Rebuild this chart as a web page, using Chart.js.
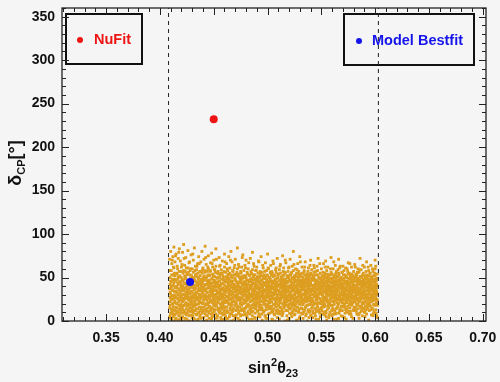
<!DOCTYPE html>
<html>
<head>
<meta charset="utf-8">
<script src="https://cdn.jsdelivr.net/npm/chart.js@4/dist/chart.umd.min.js"></script>
<style>
  html,body{margin:0;padding:0;background:#f5f5f5;}
  canvas{display:block;}
</style>
</head>
<body>
<canvas id="chart" width="500" height="382"></canvas>
<script>
// ── sin^2 theta23 vs delta_CP scan ─────────────────────

// akse-ticks
const s23Ticks = [0.35,0.40,0.45,0.50,0.55,0.60,0.65,0.70];
const dcpTicks = [0,50,100,150,200,250,300,350];

// enkeltpunkter [sin2 t23, dCP]
const nuFitPoint   = [0.45, 232];
const bestFitPoint = [0.428, 45];

// stiplede grenser (3 sigma) for sin2 t23
const boundS23 = [0.408, 0.603];

// scan-punkter, lest av bildet: [sin2 t23, [dCP-verdier]]
const scanCols = [
[0.409,[4,22,37,58,71,15]],[0.410,[31,9,46,80,27]],[0.411,[12,53,40,2,66,29]],[0.412,[19,35,74,8,48]],
[0.413,[44,26,61,13,0,85]],[0.414,[7,39,52,23,68]],[0.415,[28,16,47,3,77,34]],[0.416,[55,20,38,11,63]],
[0.417,[1,42,30,72,25,50]],[0.418,[36,14,57,83,6]],[0.419,[24,45,9,33,69,17]],[0.420,[50,3,27,41,62]],
[0.421,[13,38,22,79,46,5]],[0.422,[30,58,18,0,35,88]],[0.423,[43,10,26,64,52]],[0.424,[8,33,49,21,73,38]],
[0.425,[17,40,2,55,29]],[0.426,[26,61,35,12,44,81]],[0.427,[47,6,19,37,67]],[0.428,[11,31,53,24,0,58]],
[0.429,[39,15,45,76,28]],[0.430,[21,4,34,60,49,13]],[0.431,[56,27,41,9,70]],[0.432,[2,36,18,48,84,31]],
[0.433,[29,52,12,38,63]],[0.434,[45,7,24,59,33,19]],[0.435,[14,40,66,27,1]],[0.436,[35,20,50,74,42,10]],
[0.437,[23,57,5,31,46]],[0.438,[48,16,37,68,26,3]],[0.439,[9,43,29,55,80]],[0.440,[32,12,47,21,61,39]],
[0.441,[52,25,0,36,71]],[0.442,[18,41,58,8,30,86]],[0.443,[37,14,26,49,65]],[0.444,[6,46,33,19,57,28]],
[0.445,[42,22,60,11,75]],[0.446,[27,3,38,52,44,16]],[0.447,[58,34,13,24,67]],[0.448,[15,48,29,40,2,78]],
[0.449,[33,9,54,21,62]],[0.450,[44,25,36,6,70,18]],[0.451,[20,51,30,45,59]],[0.452,[8,39,17,63,27,83]],
[0.453,[49,28,4,35,55]],[0.454,[24,42,14,57,32,0]],[0.455,[38,11,46,26,73]],[0.456,[12,53,34,20,64,41]],
[0.457,[30,1,43,59,16]],[0.458,[55,22,37,9,69,29]],[0.459,[17,47,31,50,2]],[0.460,[41,26,13,62,35,77]],
[0.461,[5,34,56,23,45]],[0.462,[28,16,48,38,66,10]],[0.463,[52,40,21,3,58]],[0.464,[19,31,44,27,74,49]],
[0.465,[36,8,55,15,61]],[0.466,[46,25,39,0,30,80]],[0.467,[11,50,22,43,68]],[0.468,[33,57,14,37,6,26]],
[0.469,[23,42,61,29,53]],[0.470,[48,18,4,35,71,40]],[0.471,[7,39,27,54,20]],[0.472,[31,13,45,60,36,84]],
[0.473,[54,24,40,9,65]],[0.474,[16,44,32,50,1,25]],[0.475,[39,6,57,22,47]],[0.476,[26,51,18,37,62,12]],
[0.477,[43,29,0,33,76]],[0.478,[14,36,52,24,58,45]],[0.479,[35,21,41,8,64]],[0.480,[50,30,15,46,27,70]],
[0.481,[4,38,23,56,42]],[0.482,[29,47,11,34,60,19]],[0.483,[45,17,53,26,2]],[0.484,[22,40,31,48,72,37]],
[0.485,[10,55,28,41,15]],[0.486,[34,24,44,6,59,79]],[0.487,[51,36,19,30,66]],[0.488,[18,3,43,25,53,38]],
[0.489,[40,28,58,14,47]],[0.490,[25,49,33,20,0,62]],[0.491,[47,11,37,55,29]],[0.492,[8,32,22,45,68,16]],
[0.493,[38,52,27,5,57]],[0.494,[23,41,34,18,47,74]],[0.495,[56,15,30,42,1]],[0.496,[31,26,49,10,61,36]],
[0.497,[12,44,21,53,28]],[0.498,[42,6,35,24,67,50]],[0.499,[19,48,39,13,58]],[0.500,[36,29,52,3,44,77]],
[0.501,[27,16,42,60,33]],[0.502,[50,35,9,24,46,21]],[0.503,[14,38,55,30,64]],[0.504,[45,22,17,40,2,57]],
[0.505,[32,51,27,11,69]],[0.506,[8,37,44,25,53,31]],[0.507,[40,19,33,48,0]],[0.508,[24,56,12,36,61,43]],
[0.509,[49,30,20,4,72]],[0.510,[17,41,35,27,54,9]],[0.511,[34,2,46,23,59]],[0.512,[55,26,38,15,65,30]],
[0.513,[11,43,29,51,40]],[0.514,[28,36,8,47,20,75]],[0.515,[44,17,53,33,61]],[0.516,[21,48,25,0,39,56]],
[0.517,[37,12,42,30,67]],[0.518,[6,52,34,22,45,27]],[0.519,[46,24,16,57,36]],[0.520,[30,40,3,49,62,19]],
[0.521,[53,14,28,38,71]],[0.522,[15,45,33,25,55,8]],[0.523,[39,21,50,10,63]],[0.524,[26,35,43,58,18,80]],
[0.525,[48,7,31,24,52]],[0.526,[13,38,20,46,60,34]],[0.527,[33,55,27,1,41]],[0.528,[42,16,36,51,23,66]],
[0.529,[20,44,11,32,57]],[0.530,[51,29,39,5,47,74]],[0.531,[9,35,23,54,30]],[0.532,[36,47,14,27,62,42]],
[0.533,[24,3,41,50,19]],[0.534,[45,31,56,12,37,58]],[0.535,[16,27,35,44,68]],[0.536,[32,51,8,22,40,26]],
[0.537,[54,18,46,33,0]],[0.538,[27,39,13,48,61,36]],[0.539,[41,23,52,29,10]],[0.540,[6,34,44,19,55,70]],
[0.541,[37,49,26,15,59]],[0.542,[22,11,40,31,47,4]],[0.543,[50,35,20,56,64]],[0.544,[14,42,28,38,9,53]],
[0.545,[33,25,47,2,57]],[0.546,[46,18,36,24,63,30]],[0.547,[28,53,12,41,72]],[0.548,[11,38,31,49,21,44]],
[0.549,[43,26,5,35,55]],[0.550,[20,47,39,14,60,33]],[0.551,[52,30,23,45,8]],[0.552,[35,16,42,27,66,51]],
[0.553,[7,44,33,55,19]],[0.554,[40,24,50,11,37,69]],[0.555,[25,1,36,46,58]],[0.556,[48,29,17,40,22,62]],
[0.557,[15,39,53,31,4]],[0.558,[31,45,21,10,49,38]],[0.559,[44,26,36,56,73]],[0.560,[18,34,48,6,29,54]],
[0.561,[38,13,27,42,60]],[0.562,[23,50,35,19,45,2]],[0.563,[53,28,8,40,64]],[0.564,[9,37,46,24,33,57]],
[0.565,[30,42,16,51,26]],[0.566,[45,20,34,3,55,71]],[0.567,[27,48,12,38,61]],[0.568,[12,32,43,22,50,30]],
[0.569,[41,24,56,17,36]],[0.570,[34,5,39,47,25,63]],[0.571,[49,30,20,42,58]],[0.572,[16,45,33,9,53,37]],
[0.573,[36,22,51,28,2]],[0.574,[24,41,14,46,60,31]],[0.575,[43,35,26,54,67]],[0.576,[8,28,48,19,38,55]],
[0.577,[32,50,11,40,23]],[0.578,[47,18,37,30,62,5]],[0.579,[21,44,27,52,35]],[0.580,[39,12,33,49,57,25]],
[0.581,[13,36,46,22,65]],[0.582,[50,27,16,41,31,54]],[0.583,[26,40,53,8,45]],[0.584,[35,19,30,48,60,14]],
[0.585,[45,33,23,3,56]],[0.586,[17,42,37,51,28,72]],[0.587,[38,25,11,46,59]],[0.588,[29,52,34,20,43,6]],
[0.589,[48,15,40,31,55]],[0.590,[10,36,26,44,62,33]],[0.591,[41,22,50,17,30]],[0.592,[27,45,8,39,53,68]],
[0.593,[52,31,24,43,14]],[0.594,[20,38,47,1,35,58]],[0.595,[34,26,43,55,18]],[0.596,[46,13,30,22,49,64]],
[0.597,[15,41,35,51,26]],[0.598,[37,24,6,45,57,31]],[0.599,[28,48,19,39,11]],[0.600,[43,33,52,25,60,70]],
[0.601,[9,36,21,46,30]],[0.602,[31,18,40,54,4,24]]
];

// andre halvdel av scannet (mellomliggende sin2 t23)
const scanColsB = [
[0.4095,[18,33,6,50,42,27]],[0.4105,[39,14,58,24,3,45]],[0.4115,[25,47,10,36,70,20]],[0.4125,[5,29,41,53,16,62]],
[0.4135,[34,21,48,8,30,55]],[0.4145,[46,12,27,38,75,2]],[0.4155,[20,40,54,15,33,9]],[0.4165,[10,31,44,26,60,48]],
[0.4175,[37,6,22,51,18,79]],[0.4185,[28,45,13,34,2,52]],[0.4195,[42,19,30,57,11,39]],[0.4205,[15,36,47,23,65,4]],
[0.4215,[31,9,55,40,26,17]],[0.4225,[48,24,12,35,44,72]],[0.4235,[3,38,28,50,19,57]],[0.4245,[26,14,43,31,61,7]],
[0.4255,[36,53,20,9,46,29]],[0.4265,[12,41,32,56,24,0]],[0.4275,[44,18,27,38,68,15]],[0.4285,[22,49,7,34,42,60]],
[0.4295,[33,11,52,25,19,45]],[0.4305,[6,38,44,16,29,77]],[0.4315,[40,23,31,50,12,3]],[0.4325,[17,46,26,37,58,21]],
[0.4335,[29,8,41,54,33,14]],[0.4345,[51,32,19,27,63,43]],[0.4355,[9,25,48,36,2,55]],[0.4365,[38,16,30,44,22,66]],
[0.4375,[27,43,12,52,35,7]],[0.4385,[14,35,57,21,40,28]],[0.4395,[45,20,33,10,48,59]],[0.4405,[24,50,4,38,29,16]],
[0.4415,[35,13,42,27,56,47]],[0.4425,[11,29,36,49,20,73]],[0.4435,[42,6,24,33,51,1]],[0.4445,[19,38,53,15,44,62]],
[0.4455,[30,47,21,40,9,26]],[0.4465,[53,17,34,28,45,57]],[0.4475,[8,32,43,12,37,22]],[0.4485,[36,23,49,31,5,66]],
[0.4495,[25,40,14,52,28,44]],[0.4505,[47,11,30,39,18,59]],[0.4515,[13,35,56,23,42,3]],[0.4525,[39,26,18,45,31,71]],
[0.4535,[21,44,33,6,50,27]],[0.4545,[32,15,40,54,24,12]],[0.4555,[50,29,9,37,46,63]],[0.4565,[4,41,25,32,19,55]],
[0.4575,[26,48,36,14,43,30]],[0.4585,[43,20,52,28,7,38]],[0.4595,[16,34,23,47,57,11]],[0.4605,[37,8,45,30,21,68]],
[0.4615,[28,51,16,39,33,2]],[0.4625,[45,24,35,12,49,60]],[0.4635,[10,38,28,54,22,42]],[0.4645,[33,19,47,5,36,26]],
[0.4655,[53,30,13,41,25,70]],[0.4665,[20,45,34,17,51,8]],[0.4675,[39,11,27,46,31,58]],[0.4685,[14,42,53,22,38,1]],
[0.4695,[29,6,37,49,18,64]],[0.4705,[46,33,21,40,12,27]],[0.4715,[24,52,30,15,44,56]],[0.4725,[35,17,43,28,3,39]],
[0.4735,[12,39,25,51,34,62]],[0.4745,[49,27,8,36,45,20]],[0.4755,[22,44,31,13,55,33]],[0.4765,[41,14,48,26,37,73]],
[0.4775,[7,35,20,42,29,50]],[0.4785,[31,50,38,11,24,44]],[0.4795,[44,23,15,33,52,61]],[0.4805,[17,40,28,47,6,36]],
[0.4815,[36,9,54,25,42,19]],[0.4825,[26,46,34,18,31,67]],[0.4835,[52,29,41,8,38,14]],[0.4845,[13,37,23,45,57,28]],
[0.4855,[40,18,49,31,2,54]],[0.4865,[27,43,11,36,24,47]],[0.4875,[35,21,32,53,15,63]],[0.4885,[9,48,40,26,35,4]],
[0.4895,[46,30,17,43,22,58]],[0.4905,[21,38,51,12,33,41]],[0.4915,[32,5,27,46,39,69]],[0.4925,[50,25,36,19,44,13]],
[0.4935,[15,42,30,55,23,34]],[0.4945,[38,13,47,28,8,52]],[0.4955,[28,45,22,39,33,64]],[0.4965,[43,19,34,11,50,25]],
[0.4975,[6,36,49,24,41,57]],[0.4985,[34,27,16,44,30,3]],[0.4995,[47,40,23,32,53,18]],[0.5005,[19,31,45,8,37,61]],
[0.5015,[39,14,28,50,22,43]],[0.5025,[25,48,35,17,40,56]],[0.5035,[53,22,10,33,46,29]],[0.5045,[11,37,43,26,55,2]],
[0.5055,[30,46,19,39,14,66]],[0.5065,[44,26,52,31,7,35]],[0.5075,[16,41,33,22,48,59]],[0.5085,[36,9,27,45,38,20]],
[0.5095,[24,50,40,13,31,53]],[0.5105,[42,18,35,54,26,11]],[0.5115,[8,33,47,21,42,63]],[0.5125,[31,44,24,38,16,50]],
[0.5135,[49,27,13,33,45,6]],[0.5145,[20,39,52,29,10,57]],[0.5155,[37,15,31,46,23,41]],[0.5165,[27,48,20,36,55,70]],
[0.5175,[45,24,39,12,33,18]],[0.5185,[12,35,44,27,50,1]],[0.5195,[34,52,17,40,29,61]],[0.5205,[23,9,46,31,38,14]],
[0.5215,[41,30,25,53,20,47]],[0.5225,[5,43,35,18,28,56]],[0.5235,[29,21,49,37,11,42]],[0.5245,[47,36,14,26,44,65]],
[0.5255,[17,40,30,51,23,8]],[0.5265,[38,12,45,33,53,27]],[0.5275,[26,47,22,39,16,59]],[0.5285,[50,28,36,10,42,31]],
[0.5295,[14,34,54,24,46,3]],[0.5305,[35,19,27,42,33,68]],[0.5315,[22,45,39,15,51,28]],[0.5325,[44,31,8,36,25,55]],
[0.5335,[10,38,47,21,30,43]],[0.5345,[32,53,24,40,13,62]],[0.5355,[48,16,34,29,45,6]],[0.5365,[18,42,27,52,36,23]],
[0.5375,[37,25,44,11,31,57]],[0.5385,[28,49,19,38,4,47]],[0.5395,[43,12,33,26,53,64]],[0.5405,[7,36,41,22,46,30]],
[0.5415,[30,47,15,35,25,53]],[0.5425,[51,23,38,9,41,18]],[0.5435,[20,34,28,48,33,61]],[0.5445,[39,6,45,30,14,43]],
[0.5455,[25,42,21,53,37,11]],[0.5465,[46,29,36,16,27,58]],[0.5475,[13,39,50,32,45,2]],[0.5485,[34,20,26,42,9,66]],
[0.5495,[49,31,44,23,37,15]],[0.5505,[16,45,33,12,52,40]],[0.5515,[38,24,19,47,29,56]],[0.5525,[27,10,41,34,48,22]],
[0.5535,[44,35,26,53,17,62]],[0.5545,[9,28,46,38,31,5]],[0.5555,[33,50,22,13,43,54]],[0.5565,[52,19,37,29,24,47]],
[0.5575,[21,41,30,45,7,35]],[0.5585,[40,26,53,18,33,60]],[0.5595,[12,36,23,49,39,27]],[0.5605,[31,47,15,34,44,8]],
[0.5615,[45,22,39,27,52,68]],[0.5625,[24,11,33,46,30,41]],[0.5635,[36,43,27,14,49,55]],[0.5645,[15,30,51,37,21,2]],
[0.5655,[47,25,18,40,35,59]],[0.5665,[29,38,45,9,53,24]],[0.5675,[41,14,32,28,46,63]],[0.5685,[6,44,25,50,37,17]],
[0.5695,[33,21,48,39,12,56]],[0.5705,[53,35,27,16,43,30]],[0.5715,[19,46,38,31,24,4]],[0.5725,[38,28,13,44,52,61]],
[0.5735,[26,50,35,21,40,10]],[0.5745,[45,17,42,30,27,57]],[0.5755,[11,32,49,24,38,44]],[0.5765,[34,42,21,53,15,66]],
[0.5775,[50,26,36,8,45,29]],[0.5785,[22,39,31,47,19,54]],[0.5795,[41,13,44,34,28,3]],[0.5805,[28,48,23,16,51,37]],
[0.5815,[14,35,41,29,46,62]],[0.5825,[37,24,52,11,33,20]],[0.5835,[47,30,18,42,38,56]],[0.5845,[23,43,34,26,7,49]],
[0.5855,[32,9,47,38,22,59]],[0.5865,[51,36,27,15,44,31]],[0.5875,[17,41,33,50,28,12]],[0.5885,[39,22,45,31,53,64]],
[0.5895,[26,47,14,37,20,41]],[0.5905,[44,33,29,52,11,5]],[0.5915,[13,27,42,23,48,57]],[0.5925,[35,50,20,39,31,16]],
[0.5935,[48,18,37,28,45,62]],[0.5945,[21,40,52,12,34,26]],[0.5955,[40,31,24,46,17,55]],[0.5965,[7,44,35,29,50,38]],
[0.5975,[30,23,48,41,14,60]],[0.5985,[52,36,19,33,27,9]],[0.5995,[18,45,40,24,55,31]],[0.6005,[38,27,13,48,35,63]],
[0.6015,[25,49,33,20,42,6]]
];

const FONT = "'Liberation Sans', Arial, Helvetica, sans-serif";
const BG = '#f5f5f5';
const GOLD = 'rgb(221,158,32)';
const RED = 'rgb(238,20,20)';
const BLUE = 'rgb(20,20,235)';

// flat liste med punkter
const scanPoints = scanCols.concat(scanColsB).flatMap(([x, ys]) => ys.map(y => ({x, y})));

// bakgrunn
const bgPlugin = {
  id:'bg',
  beforeDraw(c){
    const g=c.ctx; g.save(); g.fillStyle=BG; g.fillRect(0,0,c.width,c.height); g.restore();
  }
};

// tekst med hevet/senket skrift
function richText(g, parts, cx, base){
  let w=0;
  parts.forEach(p=>{ g.font='bold '+p.size+'px '+FONT; p.w=g.measureText(p.t).width; w+=p.w; });
  let x=cx-w/2;
  parts.forEach(p=>{
    g.font='bold '+p.size+'px '+FONT;
    g.fillText(p.t, x, base+(p.dy||0));
    x+=p.w;
  });
}

// legend-bokser (under datasett, stiplet linje går over)
const legendPlugin = {
  id:'legendBoxes',
  beforeDatasetsDraw(c){
    const g=c.ctx; g.save();
    g.lineWidth=2; g.strokeStyle='#111';
    g.strokeRect(66,14,76,50);
    g.strokeRect(344,14,130,51);
    g.fillStyle=RED; g.beginPath(); g.arc(80,40,3,0,Math.PI*2); g.fill();
    g.fillStyle=BLUE; g.beginPath(); g.arc(359,41,3,0,Math.PI*2); g.fill();
    g.textBaseline='middle'; g.textAlign='left';
    g.font='bold 14.5px '+FONT;
    g.fillStyle=RED; g.fillText('NuFit',94,40);
    g.fillStyle=BLUE; g.fillText('Model Bestfit',372,41);
    g.restore();
  }
};

// ramme, ticks inn på alle sider, aksetitler
const framePlugin = {
  id:'frame',
  afterDraw(c){
    const g=c.ctx, a=c.chartArea, xs=c.scales.x, ys=c.scales.y;
    g.save();
    g.strokeStyle='#222'; g.lineWidth=1.3;
    g.strokeRect(a.left,a.top,a.right-a.left,a.bottom-a.top);
    g.lineWidth=1;
    const tick=(x1,y1,x2,y2)=>{g.beginPath();g.moveTo(x1,y1);g.lineTo(x2,y2);g.stroke();};
    // x: minor hver 0.01
    for(let v=0.31; v<=xs.max+1e-9; v+=0.01){
      const major = Math.abs(Math.round(v*20)-v*20)<1e-6;
      const L = major?7:4, px=Math.round(xs.getPixelForValue(v))+0.5;
      tick(px,a.bottom,px,a.bottom-L);
      tick(px,a.top,px,a.top+L);
    }
    // y: minor hver 10
    for(let v=0; v<=ys.max; v+=10){
      const L = v%50===0?7:4, py=Math.round(ys.getPixelForValue(v))+0.5;
      tick(a.left,py,a.left+L,py);
      tick(a.right,py,a.right-L,py);
    }
    // aksetitler
    g.fillStyle='#111'; g.textAlign='left'; g.textBaseline='alphabetic';
    richText(g,[{t:'sin',size:16},{t:'2',size:11,dy:-7},{t:'\u03B8',size:16},{t:'23',size:11,dy:4}],273,373);
    g.translate(21,163); g.rotate(-Math.PI/2);
    richText(g,[{t:'\u03B4',size:18},{t:'CP',size:11,dy:4},{t:'[\u00B0]',size:18}],0,0);
    g.restore();
  }
};

// ingen ekstra luft rundt aksene
const noPad = s => { s.paddingTop=0; s.paddingBottom=0; s.paddingLeft=0; s.paddingRight=0; };

new Chart(document.getElementById('chart'),{
  type:'scatter',
  data:{
    datasets:[
      {data:[{x:nuFitPoint[0],y:nuFitPoint[1]}], backgroundColor:RED, borderWidth:0, pointRadius:4, order:0},
      {data:[{x:bestFitPoint[0],y:bestFitPoint[1]}], backgroundColor:BLUE, borderWidth:0, pointRadius:4, order:0},
      ...boundS23.map(b=>({
        data:[{x:b,y:0},{x:b,y:360}], showLine:true, borderColor:'#222', borderWidth:1,
        borderDash:[4,4], pointRadius:0, order:1
      })),
      {data:scanPoints, backgroundColor:GOLD, borderWidth:0, pointStyle:'rect', pointRadius:2, order:2}
    ]
  },
  options:{
    responsive:false, animation:false, events:[],
    layout:{padding:{left:0,right:14,top:8,bottom:0}},
    plugins:{legend:{display:false}, tooltip:{enabled:false}},
    scales:{
      x:{
        type:'linear', min:0.309, max:0.703,
        afterBuildTicks:s=>{ s.ticks=s23Ticks.map(v=>({value:v})); },
        afterFit:s=>{ s.height=61; noPad(s); },
        grid:{display:false, drawTicks:false}, border:{display:false},
        ticks:{padding:9, color:'#111', font:{family:FONT,size:14,weight:'bold'},
               callback:v=>v.toFixed(2), maxRotation:0, autoSkip:false}
      },
      y:{
        type:'linear', min:0, max:360,
        afterBuildTicks:s=>{ s.ticks=dcpTicks.map(v=>({value:v})); },
        afterFit:s=>{ s.width=62; noPad(s); },
        grid:{display:false, drawTicks:false}, border:{display:false},
        ticks:{padding:7, color:'#111', font:{family:FONT,size:14,weight:'bold'}, autoSkip:false}
      }
    }
  },
  plugins:[bgPlugin, legendPlugin, framePlugin]
});
</script>
</body>
</html>
